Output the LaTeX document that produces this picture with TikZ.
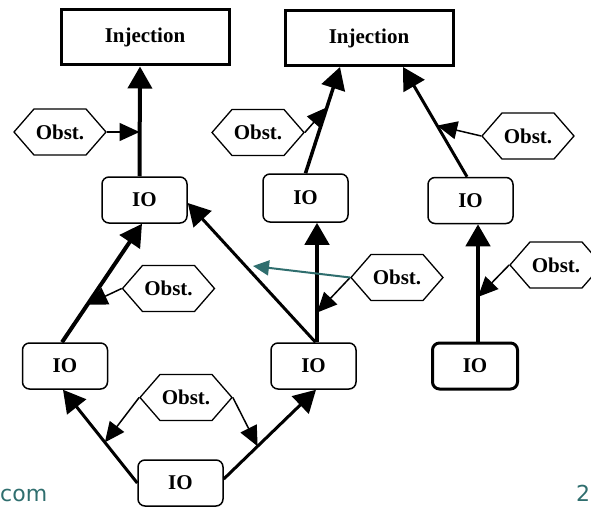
\documentclass[tikz,border=0pt]{standalone}
\usepackage{fontspec}
\setmainfont{Liberation Serif}
\newfontfamily\slidefont{DejaVu Sans}
\usetikzlibrary{arrows.meta,calc,shapes.symbols}
\definecolor{tealA}{RGB}{47,110,110}
\begin{document}
\begin{tikzpicture}[x=1pt,y=-1pt,
  every node/.style={font=\fontsize{21}{24}\selectfont\bfseries},
  injbox/.style={draw, line width=3pt, minimum width=168pt, minimum height=55pt, inner sep=0pt},
  iobox/.style={draw, rounded corners=7pt, line width=1.5pt, minimum width=85pt, minimum height=46pt, inner sep=0pt},
  iothick/.style={iobox, line width=3pt},
  hexbox/.style={draw, shape=signal, signal to=east and west, signal pointer angle=98, line width=1.3pt, minimum width=92pt, minimum height=46pt, inner sep=0pt},
  mainarrow/.style={line width=#1, -{Triangle[length=22pt,width=24pt]}},
  mainarrow/.default=3.5pt,
  obarrow/.style={line width=1.5pt, -{Triangle[length=20pt,width=18pt]}},
  tealarrow/.style={draw=tealA, line width=2pt, -{Triangle[length=16pt,width=15pt]}},
  slidetext/.style={font=\slidefont\fontsize{22}{26}\selectfont, text=tealA, anchor=base west, inner sep=0pt},
]
\useasboundingbox (0,0) rectangle (591,508);

% boxes
\node[injbox] (inj1) at (145,37.5) {Injection};
\node[injbox] (inj2) at (369,38) {Injection};
\node[iobox] (io1) at (144.5,200) {IO};
\node[iobox, minimum height=48pt] (io2) at (305.5,198) {IO};
\node[iobox] (io3) at (470.5,200.5) {IO};
\node[iobox] (io4) at (65,366) {IO};
\node[iobox] (io5) at (180.5,483) {IO};
\node[iobox] (io6) at (313.5,366) {IO};
\node[iothick] (io7) at (475,366) {IO};

% obstacles
\node[hexbox] (ob1) at (60,132) {Obst.};
\node[hexbox] (ob2) at (258,132.5) {Obst.};
\node[hexbox] (ob3) at (528,136) {Obst.};
\node[hexbox] (ob4) at (168.5,288.5) {Obst.};
\node[hexbox] (ob5) at (186,397.5) {Obst.};
\node[hexbox] (ob6) at (397,277.5) {Obst.};
\node[hexbox] (ob7) at (556,265) {Obst.};

% connector end points
\coordinate (a1) at ($(io1.north)+(-5,0)$);
\coordinate (b1) at ($(inj1.south)+(-5,0)$);
\coordinate (b3) at ($(inj2.south)+(-29,0)$);
\coordinate (a5) at ($(io3.north)+(-3.5,0)$);
\coordinate (b5) at ($(inj2.south)+(34,0)$);
\coordinate (a7) at ($(io4.north)+(-3,0)$);
\coordinate (b7) at ($(io1.south)+(-2.5,0)$);
\coordinate (b9) at ($(io4.south)+(-2,0)$);
\coordinate (a10) at ($(io5.east)+(0,-4)$);
\coordinate (b10) at ($(io6.south)+(2.5,0)$);
\coordinate (a13) at ($(io6.north)+(3.5,0)$);
\coordinate (b13) at ($(io2.south)+(11.5,0)$);
\coordinate (a14) at ($(io6.north)+(2,0)$);
\coordinate (b14) at ($(io1.east)+(0,3)$);
\coordinate (a17) at ($(io7.north)+(3,0)$);
\coordinate (b17) at ($(io3.south)+(7.5,0)$);
\coordinate (tealend) at (253,266);

% main connectors
\draw[mainarrow=4pt] (a1) -- (b1);
\draw[mainarrow=3.5pt] (io2.north) -- (b3);
\draw[mainarrow=3pt] (a5) -- (b5);
\draw[mainarrow=4pt] (a7) -- (b7);
\draw[mainarrow=3pt] (io5.west) -- (b9);
\draw[mainarrow=3pt] (a10) -- (b10);
\draw[mainarrow=4.5pt] (a13) -- (b13);
\draw[mainarrow=3pt] (a14) -- (b14);
\draw[mainarrow=4.5pt] (a17) -- (b17);

% obstacle connectors
\draw[obarrow] (ob1.east) -- (ob1.east -| a1);
\draw[obarrow] (ob2.east) -- ($(io2.north)!0.62!(b3)$);
\draw[obarrow] (ob3.west) -- ($(a5)!0.466!(b5)$);
\draw[obarrow] (ob4.west) -- ($(a7)!0.317!(b7)$);
\draw[obarrow] (ob5.west) -- ($(io5.west)!0.436!(b9)$);
\draw[obarrow] (ob5.east) -- ($(a10)!0.367!(b10)$);
\draw[obarrow] (ob6.west) -- ($(a13)!0.248!(b13)$);
\draw[tealarrow] (ob6.west) -- (tealend);
\draw[obarrow] (ob7.west) -- ($(a17)!0.38!(b17)$);

% slide remnants
\node[slidetext] (url) at (0,501) {com};
\node[slidetext] (pg) at (576,501) {2};
\end{tikzpicture}
\end{document}
